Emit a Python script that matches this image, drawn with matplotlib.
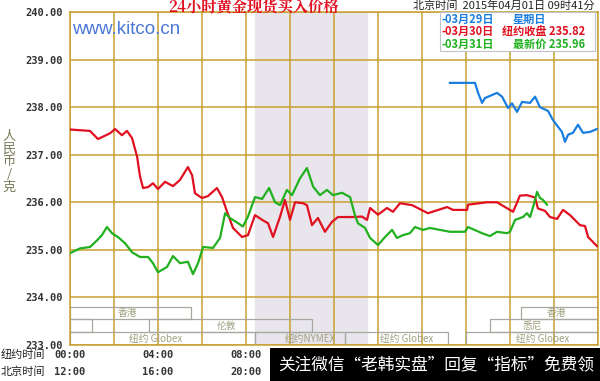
import matplotlib
matplotlib.use('Agg')
import matplotlib.pyplot as plt
import matplotlib.transforms as mtransforms
from matplotlib.patches import Rectangle

plt.rcParams['font.family'] = ['Noto Sans CJK SC', 'DejaVu Sans']

# hours since 00:00 New York time
red_hours = [0.0, 0.91, 1.27, 1.82, 2.05, 2.36, 2.59, 2.82, 3.05, 3.18, 3.32, 3.55, 3.77, 4.0,
             4.32, 4.68, 5.0, 5.36, 5.55, 5.68, 6.0, 6.27, 6.68, 6.91, 7.14, 7.41, 7.82, 8.09,
             8.41, 8.77, 9.0, 9.23, 9.55, 9.77, 10.0, 10.23, 10.59, 10.77, 11.0, 11.27, 11.59,
             11.91, 12.18, 12.86, 13.27, 13.5, 13.64, 14.0, 14.41, 14.68, 15.0, 15.55, 16.27,
             17.14, 17.41, 18.05, 18.09, 18.95, 19.41, 20.14, 20.45, 20.77, 21.14, 21.27, 21.59,
             21.82, 22.14, 22.41, 22.73, 23.18, 23.41, 23.55, 23.95]
red_price = [237.53, 237.50, 237.33, 237.45, 237.54, 237.41, 237.50, 237.35, 236.96, 236.55,
             236.30, 236.32, 236.40, 236.28, 236.43, 236.34, 236.47, 236.74, 236.57, 236.19,
             236.09, 236.13, 236.30, 236.11, 235.80, 235.46, 235.27, 235.31, 235.73, 235.62,
             235.56, 235.27, 235.70, 236.05, 235.63, 236.00, 235.98, 235.94, 235.52, 235.67,
             235.38, 235.59, 235.69, 235.69, 235.70, 235.63, 235.88, 235.74, 235.88, 235.80,
             235.98, 235.94, 235.77, 235.90, 235.84, 235.84, 235.95, 236.00, 236.00, 235.80,
             236.14, 236.15, 236.10, 235.87, 235.82, 235.69, 235.65, 235.84, 235.73, 235.52,
             235.50, 235.27, 235.08]

green_hours = [0.0, 0.45, 0.91, 1.23, 1.45, 1.68, 1.91, 2.18, 2.5, 2.82, 3.18, 3.55, 3.77, 4.0,
               4.41, 4.68, 5.0, 5.36, 5.59, 5.82, 6.05, 6.5, 6.82, 7.05, 7.27, 7.64, 7.86, 8.09,
               8.41, 8.73, 9.05, 9.32, 9.55, 9.86, 10.09, 10.45, 10.77, 11.05, 11.36, 11.68,
               11.95, 12.36, 12.73, 12.95, 13.09, 13.41, 13.64, 14.0, 14.32, 14.64, 14.86, 15.14,
               15.45, 15.68, 16.05, 16.36, 17.27, 17.95, 18.09, 18.73, 19.09, 19.41, 19.86, 20.0,
               20.23, 20.59, 20.77, 20.91, 21.05, 21.23, 21.36, 21.5, 21.68]
green_price = [234.93, 235.03, 235.06, 235.20, 235.31, 235.48, 235.35, 235.27, 235.14, 234.95,
               234.85, 234.85, 234.72, 234.53, 234.64, 234.87, 234.72, 234.75, 234.49, 234.72,
               235.06, 235.04, 235.25, 235.77, 235.67, 235.56, 235.49, 235.70, 236.11, 236.07,
               236.30, 236.00, 235.94, 236.26, 236.15, 236.50, 236.72, 236.33, 236.15, 236.26,
               236.15, 236.20, 236.11, 235.73, 235.56, 235.46, 235.25, 235.10, 235.27, 235.42,
               235.25, 235.31, 235.35, 235.48, 235.42, 235.46, 235.38, 235.38, 235.48, 235.35,
               235.29, 235.38, 235.35, 235.38, 235.63, 235.69, 235.77, 235.69, 235.90, 236.22,
               236.09, 236.05, 235.95]

blue_hours = [17.27, 18.41, 18.55, 18.73, 18.86, 19.41, 19.64, 19.91, 20.09, 20.32, 20.55, 20.91,
              21.14, 21.36, 21.73, 21.95, 22.18, 22.36, 22.5, 22.64, 22.86, 23.09, 23.32, 23.64,
              23.95]
blue_price = [238.51, 238.51, 238.30, 238.09, 238.19, 238.30, 238.22, 237.98, 238.08, 237.90,
              238.11, 238.09, 238.22, 238.00, 237.92, 237.73, 237.59, 237.48, 237.27, 237.42,
              237.46, 237.63, 237.46, 237.48, 237.54]

tick_hours = [0, 4, 8]
ny_labels = ['00:00', '04:00', '08:00']
bj_labels = ['12:00', '16:00', '20:00']

# trading sessions: (name, start, end, tier, label position)
sessions = [('香港', 0.0, 5.5, 0, 2.6), ('香港', 20.5, 24.0, 0, 22.1),
            ('', 0.0, 1.0, 1, 0.5), ('伦敦', 3.6, 11.0, 1, 7.1), ('悉尼', 19.1, 24.0, 1, 21.0),
            ('纽约 Globex', 0.0, 8.4, 2, 3.9), ('纽约NYMEX', 8.4, 12.5, 2, 10.9),
            ('纽约 Globex', 12.5, 17.2, 2, 15.3), ('纽约 Globex', 18.0, 24.0, 2, 21.5)]

grid_c = '#c8a030'
fig = plt.figure(figsize=(6, 3.81), dpi=100)
ax = fig.add_axes([70 / 600, 1 - 345 / 381, 528 / 600, 333 / 381])
ax.set_xlim(0, 24)
ax.set_ylim(233, 240)

ax.axvspan(8.4, 13.5, color='#e8e6ec', zorder=0)
for h in range(0, 25, 2):
    ax.axvline(h, color=grid_c, lw=1.1, zorder=1)
for p in range(233, 241):
    ax.axhline(p, color=grid_c, lw=1.1, zorder=1)
for s in ax.spines.values():
    s.set_color(grid_c)
    s.set_linewidth(1.1)

tier_top = [233.80, 233.54, 233.27]
tier_bot = [233.55, 233.27, 233.0]
for name, a, b, t, lx in sessions:
    ax.add_patch(Rectangle((a, tier_bot[t]), b - a, tier_top[t] - tier_bot[t],
                           fill=False, ec='#a8a8a0', lw=0.9, zorder=2))
    if name:
        ax.text(lx, (tier_top[t] + tier_bot[t]) / 2, name, ha='center', va='center',
                fontsize=7, color='#a0a080', zorder=3)

ax.plot(red_hours, red_price, color='#e01020', lw=1.6, zorder=4)
ax.plot(green_hours, green_price, color='#20b020', lw=1.6, zorder=5)
ax.plot(blue_hours, blue_price, color='#1a7ee0', lw=1.6, zorder=4)

ax.set_xticks([])
ax.set_yticks(range(233, 241))
ax.set_yticklabels(['%.2f' % v for v in range(233, 241)], family='DejaVu Sans Mono',
                   fontweight='bold', fontsize=7.5, color='#333333')
ax.tick_params(axis='y', length=0, pad=5)

trans = mtransforms.blended_transform_factory(ax.transData, fig.transFigure)
for h, ny, bj in zip(tick_hours, ny_labels, bj_labels):
    ax.text(h, 1 - 355 / 381, ny, transform=trans, ha='center', va='center', family='DejaVu Sans Mono',
            fontweight='bold', fontsize=7.5, color='#333333')
    ax.text(h, 1 - 372 / 381, bj, transform=trans, ha='center', va='center', family='DejaVu Sans Mono',
            fontweight='bold', fontsize=7.5, color='#333333')
fig.text(1 / 600, 1 - 355 / 381, '纽约时间', ha='left', va='center', fontsize=8, color='#222222')
fig.text(1 / 600, 1 - 372 / 381, '北京时间', ha='left', va='center', fontsize=8, color='#222222')

fig.text(9 / 600, 1 - 162 / 381, '\n'.join('人民币/克'), ha='center', va='center', fontsize=9.5,
         color='#7a7a5a', linespacing=0.98)

fig.text(253 / 600, 1 - 8 / 381, '24小时黄金现货买入价格', ha='center', va='center', fontsize=11,
         fontweight='bold', color='#e01020', family=['Noto Serif CJK SC', 'Noto Sans CJK SC'])
fig.text(595 / 600, 1 - 6 / 381, '北京时间  2015年04月01日 09时41分', ha='right', va='center',
         fontsize=8, color='#222222')
ax.text(72 / 600, 1 - 29 / 381, 'www.kitco.cn', transform=fig.transFigure, ha='left', va='center',
        fontsize=13.5, color='#4a78d8', family='Liberation Sans', zorder=6)

# legend box
fig.patches.append(Rectangle((440 / 600, 1 - 51 / 381), 155 / 600, 39 / 381, transform=fig.transFigure,
                             fc='white', ec='#c0c4c8', lw=0.8, zorder=5))
legend_rows = [('-03月29日', '星期日', '#1a7ee0', 513), ('-03月30日', '纽约收盘 235.82', '#e01020', 502),
               ('-03月31日', '最新价 235.96', '#20b020', 513)]
for i, (d, v, c, vx) in enumerate(legend_rows):
    y = 1 - (19 + i * 12.5) / 381
    fig.text(441 / 600, y, d, ha='left', va='center', fontsize=8, color=c, fontweight='bold', zorder=6)
    fig.text(vx / 600, y, v, ha='left', va='center', fontsize=8, color=c, fontweight='bold', zorder=6)

# watermark banner
fig.patches.append(Rectangle((270 / 600, 0), 330 / 600, 33 / 381, transform=fig.transFigure,
                             fc='black', ec='none', zorder=7))
fig.text(278 / 600, 1 - 366 / 381, '关注微信“老韩实盘”回复“指标”免费领', ha='left', va='center',
         fontsize=12, color='white', zorder=8)

fig.savefig('out.png', dpi=100)
